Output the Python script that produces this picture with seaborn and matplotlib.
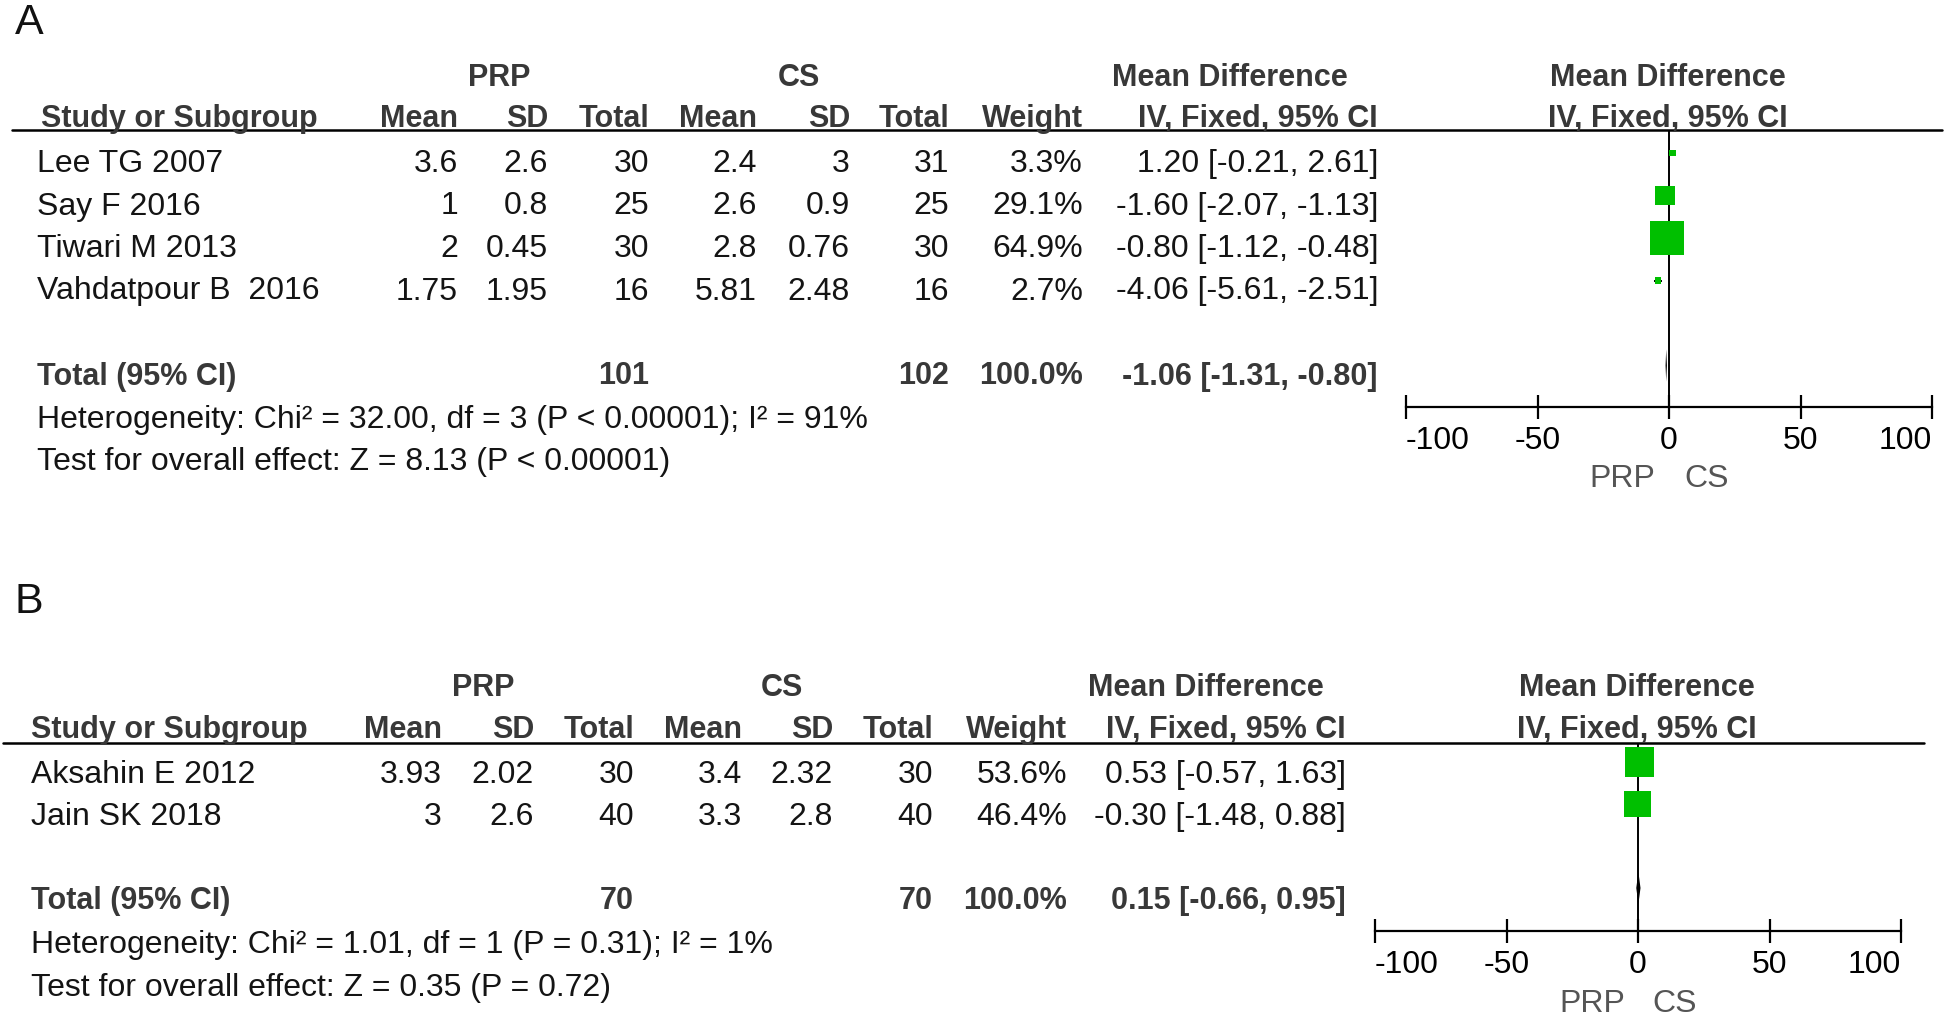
import numpy as np
import pandas as pd
import matplotlib
matplotlib.use("Agg")
import matplotlib.pyplot as plt
from matplotlib.lines import Line2D
import seaborn as sns

W, H = 1946, 1017

# ---- panel A: outcome A ----
studies_a = ["Lee TG 2007", "Say F 2016", "Tiwari M 2013", "Vahdatpour B  2016"]
prp_mean_a = [3.6, 1, 2, 1.75]
prp_sd_a = [2.6, 0.8, 0.45, 1.95]
prp_n_a = [30, 25, 30, 16]
cs_mean_a = [2.4, 2.6, 2.8, 5.81]
cs_sd_a = [3, 0.9, 0.76, 2.48]
cs_n_a = [31, 25, 30, 16]
weight_a = [3.3, 29.1, 64.9, 2.7]
md_a = [1.20, -1.60, -0.80, -4.06]
lo_a = [-0.21, -2.07, -1.12, -5.61]
hi_a = [2.61, -1.13, -0.48, -2.51]
total_n_a = [101, 102]
total_md_a = [-1.06, -1.31, -0.80]
het_a = "Heterogeneity: Chi\u00b2 = 32.00, df = 3 (P < 0.00001); I\u00b2 = 91%"
ztest_a = "Test for overall effect: Z = 8.13 (P < 0.00001)"

# ---- panel B: outcome B ----
studies_b = ["Aksahin E 2012", "Jain SK 2018"]
prp_mean_b = [3.93, 3]
prp_sd_b = [2.02, 2.6]
prp_n_b = [30, 40]
cs_mean_b = [3.4, 3.3]
cs_sd_b = [2.32, 2.8]
cs_n_b = [30, 40]
weight_b = [53.6, 46.4]
md_b = [0.53, -0.30]
lo_b = [-0.57, -1.48]
hi_b = [1.63, 0.88]
total_n_b = [70, 70]
total_md_b = [0.15, -0.66, 0.95]
het_b = "Heterogeneity: Chi\u00b2 = 1.01, df = 1 (P = 0.31); I\u00b2 = 1%"
ztest_b = "Test for overall effect: Z = 0.35 (P = 0.72)"

x_ticks = [-100, -50, 0, 50, 100]

sns.set_style("white")
plt.rcParams["font.family"] = ["Liberation Sans", "DejaVu Sans"]
plt.rcParams["axes.unicode_minus"] = False

FS = 23        # normal text
FSB = 22       # bold text
TEXT_DY = 4    # va=center sits a bit high, nudge down
BOLD_C = "#383838"
TXT_C = "#141414"
GREEN = "#00bf00"

# pixel layouts for the two panels
lay_a = dict(tag_y=23, hdr1=74, hdr2=115, line_y=130, line_x=(12, 1942),
             r0=153, dy=42.5, toff=7, het=416, z=458,
             axis_y=407, fx=(1406, 1932), lab_y=475, lab_x=(1622, 1707),
             study_x=37, hdr_study_x=41,
             cols=[458, 548, 649, 757, 850, 949, 1083, 1378],
             grp=(499, 799, 1230, 1668))
lay_b = dict(tag_y=602, hdr1=684, hdr2=726, line_y=743, line_x=(3, 1924),
             r0=762, dy=42, toff=9, het=941, z=984,
             axis_y=931, fx=(1375, 1901), lab_y=1000, lab_x=(1592, 1675),
             study_x=31, hdr_study_x=31,
             cols=[442, 534, 634, 742, 833, 933, 1067, 1346],
             grp=(483, 782, 1206, 1637))


def ftxt(fig, x, y, s, bold=False, **kw):
    if bold:
        kw.setdefault("fontsize", FSB)
        kw.setdefault("color", BOLD_C)
        kw["weight"] = "bold"
    kw.setdefault("fontsize", FS)
    kw.setdefault("color", TXT_C)
    kw.setdefault("va", "center")
    fig.text(x / W, 1 - (y + TEXT_DY) / H, s, **kw)


def draw_panel(fig, tag, lay, studies, pm, psd, pn, cm, csd, cn, weight, md, lo, hi,
               tot_n, tot_md, het, ztest):
    n = len(studies)
    ftxt(fig, 15, lay["tag_y"] - TEXT_DY, tag, fontsize=31, color="#111111")

    # header rows
    g = lay["grp"]
    ftxt(fig, g[0], lay["hdr1"], "PRP", bold=True, ha="center")
    ftxt(fig, g[1], lay["hdr1"], "CS", bold=True, ha="center")
    ftxt(fig, g[2], lay["hdr1"], "Mean Difference", bold=True, ha="center")
    ftxt(fig, g[3], lay["hdr1"], "Mean Difference", bold=True, ha="center")
    ftxt(fig, lay["hdr_study_x"], lay["hdr2"], "Study or Subgroup", bold=True, ha="left")
    heads = ["Mean", "SD", "Total", "Mean", "SD", "Total", "Weight", "IV, Fixed, 95% CI"]
    for x, h in zip(lay["cols"], heads):
        ftxt(fig, x, lay["hdr2"], h, bold=True, ha="right")
    ftxt(fig, g[3], lay["hdr2"], "IV, Fixed, 95% CI", bold=True, ha="center")

    fig.add_artist(Line2D([lay["line_x"][0] / W, lay["line_x"][1] / W],
                          [1 - lay["line_y"] / H] * 2, transform=fig.transFigure,
                          color="black", lw=1.8))

    # study rows
    for i in range(n):
        y = lay["r0"] + i * lay["dy"] + lay["toff"]
        cells = [f"{pm[i]:g}", f"{psd[i]:g}", f"{pn[i]}", f"{cm[i]:g}", f"{csd[i]:g}",
                 f"{cn[i]}", f"{weight[i]:.1f}%", f"{md[i]:.2f} [{lo[i]:.2f}, {hi[i]:.2f}]"]
        ftxt(fig, lay["study_x"], y, studies[i], ha="left")
        for x, c in zip(lay["cols"], cells):
            ftxt(fig, x, y, c, ha="right")

    # total row
    t_row = n + 1
    y = lay["r0"] + t_row * lay["dy"] + lay["toff"]
    ftxt(fig, lay["study_x"], y, "Total (95% CI)", bold=True, ha="left")
    ftxt(fig, lay["cols"][2], y, f"{tot_n[0]}", bold=True, ha="right")
    ftxt(fig, lay["cols"][5], y, f"{tot_n[1]}", bold=True, ha="right")
    ftxt(fig, lay["cols"][6], y, f"{sum(weight):.1f}%", bold=True, ha="right")
    ftxt(fig, lay["cols"][7], y, f"{tot_md[0]:.2f} [{tot_md[1]:.2f}, {tot_md[2]:.2f}]",
         bold=True, ha="right")
    ftxt(fig, lay["study_x"], lay["het"], het, ha="left")
    ftxt(fig, lay["study_x"], lay["z"], ztest, ha="left")

    # forest plot
    x0, x1 = lay["fx"]
    ax = fig.add_axes([x0 / W, 1 - lay["axis_y"] / H, (x1 - x0) / W,
                       (lay["axis_y"] - lay["line_y"]) / H])
    df = pd.DataFrame({"study": studies, "md": md, "lo": lo, "hi": hi,
                       "row": np.arange(n), "weight": weight})
    side_pt = (4 + 1.05 * np.power(df["weight"], 0.8)) * 0.72
    sizes = dict(zip(df["study"], side_pt ** 2))
    ax.hlines(df["row"], df["lo"], df["hi"], color="black", lw=1.4, zorder=2)
    sns.scatterplot(data=df, x="md", y="row", size="study", sizes=sizes, marker="s",
                    color=GREEN, edgecolor="none", linewidth=0, legend=False, ax=ax, zorder=3)
    ax.fill([tot_md[1], tot_md[0], tot_md[2], tot_md[0]],
            [t_row, t_row - 0.38, t_row, t_row + 0.38], color="black", lw=0, zorder=3)
    ax.axvline(0, color="black", lw=1.4, zorder=1)

    to_data = lambda ypx: (ypx - lay["r0"]) / lay["dy"]
    ax.set_xlim(x_ticks[0], x_ticks[-1])
    ax.set_ylim(to_data(lay["axis_y"]), to_data(lay["line_y"]))
    ax.set_xticks(x_ticks)
    labels = ax.set_xticklabels([str(t) for t in x_ticks])
    labels[0].set_ha("left")
    labels[-1].set_ha("right")
    ax.set_yticks([])
    ax.set_xlabel("")
    ax.set_ylabel("")
    for s in ["top", "left", "right"]:
        ax.spines[s].set_visible(False)
    ax.spines["bottom"].set_color("black")
    ax.spines["bottom"].set_linewidth(1.6)
    ax.tick_params(axis="x", direction="inout", length=17, width=1.6, pad=5,
                   labelsize=FS, colors="black", bottom=True)
    ax.patch.set_alpha(0)

    ftxt(fig, lay["lab_x"][0], lay["lab_y"], "PRP", ha="center", color="#555555")
    ftxt(fig, lay["lab_x"][1], lay["lab_y"], "CS", ha="center", color="#555555")


fig = plt.figure(figsize=(W / 100, H / 100), dpi=100)
fig.patch.set_facecolor("white")

draw_panel(fig, "A", lay_a, studies_a, prp_mean_a, prp_sd_a, prp_n_a, cs_mean_a, cs_sd_a,
           cs_n_a, weight_a, md_a, lo_a, hi_a, total_n_a, total_md_a, het_a, ztest_a)
draw_panel(fig, "B", lay_b, studies_b, prp_mean_b, prp_sd_b, prp_n_b, cs_mean_b, cs_sd_b,
           cs_n_b, weight_b, md_b, lo_b, hi_b, total_n_b, total_md_b, het_b, ztest_b)

fig.savefig("out.png", dpi=100)
plt.close(fig)
